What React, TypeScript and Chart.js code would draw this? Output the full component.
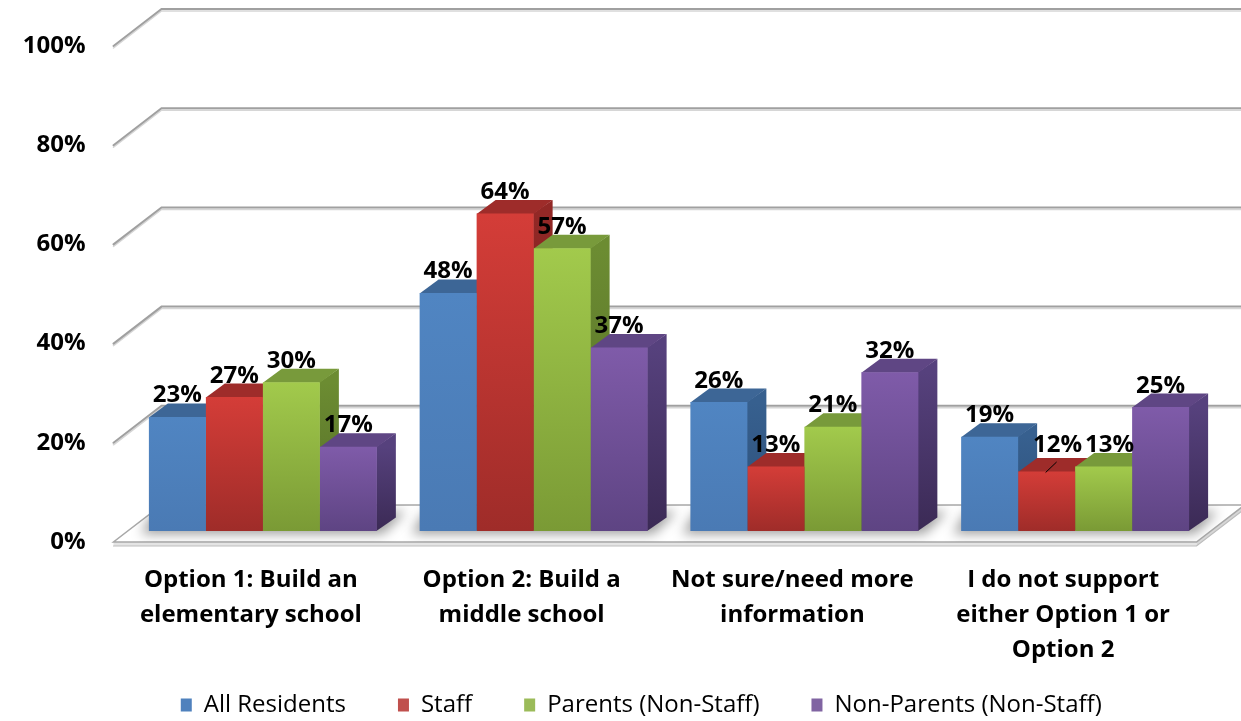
import React, { useEffect, useRef } from "react";
import { Chart, registerables } from "chart.js";

Chart.register(...registerables);

const categories = [
  ["Option 1: Build an", "elementary school"],
  ["Option 2: Build a", "middle school"],
  ["Not sure/need more", "information"],
  ["I do not support", "either Option 1 or", "Option 2"],
];
const seriesNames = ["All Residents", "Staff", "Parents (Non-Staff)", "Non-Parents (Non-Staff)"];
const allResidents = [23, 48, 26, 19];
const staff = [27, 64, 13, 12];
const parentsNonStaff = [30, 57, 21, 13];
const nonParentsNonStaff = [17, 37, 32, 25];
const seriesValues = [allResidents, staff, parentsNonStaff, nonParentsNonStaff];
const yTickStep = 20;
const yMax = 100;

const FONT = "'Open Sans', Lato, sans-serif";

const palettes = [
  { legend: "#4F81BD", frontTop: "#5085C2", frontBot: "#4A7AB4", top: "#3D6696", sideTop: "#37608F", sideBot: "#2D4F78" },
  { legend: "#C0504D", frontTop: "#D43D38", frontBot: "#9F2C29", top: "#9E2C2A", sideTop: "#922826", sideBot: "#6A1D1B" },
  { legend: "#9BBB59", frontTop: "#A2CA4C", frontBot: "#7A9A35", top: "#789A3B", sideTop: "#6C8C32", sideBot: "#536B26" },
  { legend: "#8064A2", frontTop: "#7F5BA9", frontBot: "#5E4483", top: "#5F4684", sideTop: "#56417D", sideBot: "#3B2A55" },
];

// projection offsets (pixels) for the 3D look
const BAR_D = { x: 19, y: -13.5 };
const FRONT_D = { x: -14, y: 11 };
const BACK_D = { x: 34, y: -26 };
const LEGEND_SHIFT = { x: 36, y: -27 };

function poly(ctx: CanvasRenderingContext2D, pts: number[][]) {
  ctx.beginPath();
  ctx.moveTo(pts[0][0], pts[0][1]);
  for (let i = 1; i < pts.length; i++) ctx.lineTo(pts[i][0], pts[i][1]);
  ctx.closePath();
}

const threeDPlugin = {
  id: "threeD",
  afterLayout(chart: any) {
    const lg = chart.legend;
    if (lg) {
      lg.top += LEGEND_SHIFT.y;
      lg.left += LEGEND_SHIFT.x;
      lg.right += LEGEND_SHIFT.x;
    }
  },
  beforeDatasetsDraw(chart: any) {
    const { ctx, chartArea: ca, scales } = chart;
    const y = scales.y;
    const y0 = y.getPixelForValue(0);
    const W = chart.width;
    ctx.save();

    // back wall grid lines + left wall diagonals
    y.ticks.forEach((t: any) => {
      if (t.value === 0) return;
      const yp = y.getPixelForValue(t.value);
      const fx = ca.left + FRONT_D.x, fy = yp + FRONT_D.y;
      const bx = ca.left + BACK_D.x, by = yp + BACK_D.y;
      ctx.lineCap = "round";
      ctx.strokeStyle = "#D6D6D6";
      ctx.lineWidth = 1.5;
      ctx.beginPath();
      ctx.moveTo(fx, fy + 2);
      ctx.lineTo(bx, by + 2);
      ctx.lineTo(W + 5, by + 2);
      ctx.stroke();
      ctx.strokeStyle = "#A0A0A0";
      ctx.lineWidth = 2;
      ctx.beginPath();
      ctx.moveTo(fx, fy);
      ctx.lineTo(bx, by);
      ctx.lineTo(W + 5, by);
      ctx.stroke();
    });

    // floor slab
    const fl = [ca.left + FRONT_D.x, y0 + FRONT_D.y];
    const fr = [ca.right + FRONT_D.x, y0 + FRONT_D.y];
    const br = [ca.right + BACK_D.x, y0 + BACK_D.y];
    const bl = [ca.left + BACK_D.x, y0 + BACK_D.y];
    const th = 4;
    ctx.fillStyle = "#E4E4E4";
    poly(ctx, [fl, fr, [fr[0], fr[1] + th], [fl[0], fl[1] + th]]);
    ctx.fill();
    ctx.fillStyle = "#D6D6D6";
    poly(ctx, [fr, br, [br[0], br[1] + th], [fr[0], fr[1] + th]]);
    ctx.fill();
    ctx.strokeStyle = "#BDBDBD";
    ctx.lineWidth = 1.2;
    ctx.beginPath();
    ctx.moveTo(fl[0], fl[1] + th);
    ctx.lineTo(fr[0], fr[1] + th);
    ctx.lineTo(br[0], br[1] + th);
    ctx.stroke();
    ctx.fillStyle = "#FFFFFF";
    poly(ctx, [fl, fr, br, bl]);
    ctx.fill();
    ctx.strokeStyle = "#A8A8A8";
    ctx.lineWidth = 1.5;
    poly(ctx, [fl, fr, br, bl]);
    ctx.stroke();

    const metas = chart.data.datasets.map((_: any, d: number) => chart.getDatasetMeta(d));
    const n = chart.data.labels.length;

    // soft shadows under bar groups
    ctx.save();
    poly(ctx, [fl, fr, br, bl]);
    ctx.clip();
    ctx.filter = "blur(6px)";
    ctx.fillStyle = "rgba(0,0,0,0.38)";
    for (let i = 0; i < n; i++) {
      const first = metas[0].data[i];
      const last = metas[metas.length - 1].data[i];
      const l = first.x - first.width / 2;
      const r = last.x + last.width / 2;
      poly(ctx, [
        [l - 8, y0 + 3],
        [r + 6, y0 + 3],
        [r + BAR_D.x + 10, y0 + BAR_D.y - 6],
        [l + BAR_D.x - 14, y0 + BAR_D.y - 6],
      ]);
      ctx.fill();
    }
    ctx.restore();

    // tops and sides of the bars (left to right)
    for (let i = 0; i < n; i++) {
      metas.forEach((meta: any, d: number) => {
        const el = meta.data[i];
        const p = palettes[d];
        const l = el.x - el.width / 2;
        const r = el.x + el.width / 2;
        const top = el.y;
        const base = el.base;
        const g = ctx.createLinearGradient(0, top, 0, base);
        g.addColorStop(0, p.sideTop);
        g.addColorStop(1, p.sideBot);
        ctx.fillStyle = g;
        poly(ctx, [
          [r - 0.5, top],
          [r + BAR_D.x, top + BAR_D.y],
          [r + BAR_D.x, base + BAR_D.y],
          [r - 0.5, base],
        ]);
        ctx.fill();
        ctx.fillStyle = p.top;
        poly(ctx, [
          [l, top + 0.5],
          [r, top + 0.5],
          [r + BAR_D.x, top + BAR_D.y],
          [l + BAR_D.x, top + BAR_D.y],
        ]);
        ctx.fill();
      });
    }
    ctx.restore();
  },
  afterDatasetsDraw(chart: any) {
    const { ctx } = chart;
    ctx.save();
    ctx.font = `bold 24px ${FONT}`;
    ctx.fillStyle = "#000";
    ctx.textAlign = "center";
    ctx.textBaseline = "alphabetic";
    const n = chart.data.labels.length;
    chart.data.datasets.forEach((ds: any, d: number) => {
      const meta = chart.getDatasetMeta(d);
      for (let i = 0; i < n; i++) {
        const el = meta.data[i];
        let dx = 0, dy = 0;
        const crowded =
          i === n - 1 && d === 1 && ds.data[i] < chart.data.datasets[2].data[i];
        if (crowded) {
          dx = 11; dy = -5;
          ctx.strokeStyle = "#000";
          ctx.lineWidth = 1;
          ctx.beginPath();
          ctx.moveTo(el.x - 1, el.y + 1);
          ctx.lineTo(el.x + 10, el.y - 9.5);
          ctx.stroke();
        }
        if (i === n - 1 && d === 2) dx = 6;
        ctx.fillText(ds.data[i] + "%", el.x + dx, el.y + BAR_D.y - 1 + dy);
      }
    });
    ctx.restore();
  },
};

export default function App() {
  const ref = useRef<HTMLCanvasElement>(null);
  useEffect(() => {
    document.body.style.margin = "0";
    const canvas = ref.current!;
    const chart = new Chart(canvas, {
      type: "bar",
      data: {
        labels: categories as any,
        datasets: seriesValues.map((vals, d) => ({
          label: seriesNames[d],
          data: vals,
          backgroundColor: (c: any) => {
            const p = palettes[d];
            const ys = c.chart.scales && c.chart.scales.y;
            if (!ys || c.type !== "data") return p.frontTop;
            const top = ys.getPixelForValue(c.raw);
            const base = ys.getPixelForValue(0);
            if (!isFinite(top) || !isFinite(base) || top === base) return p.frontTop;
            const g = c.chart.ctx.createLinearGradient(0, top, 0, base);
            g.addColorStop(0, p.frontTop);
            g.addColorStop(1, p.frontBot);
            return g;
          },
          borderWidth: 0,
          categoryPercentage: 0.842,
          barPercentage: 1,
        })),
      },
      options: {
        responsive: false,
        animation: false,
        devicePixelRatio: 1,
        layout: { padding: { left: 0, right: 30.5, top: 35, bottom: 0 } },
        scales: {
          x: {
            grid: { display: false, drawTicks: false },
            border: { display: false },
            ticks: {
              font: { family: FONT, size: 24, weight: "bold", lineHeight: 1.46 },
              color: "#000",
              padding: 31.5,
              labelOffset: -12,
              maxRotation: 0,
              autoSkip: false,
            },
            afterFit: (s: any) => {
              s.height = 137;
              s.paddingLeft = 0;
              s.paddingRight = 0;
            },
          },
          y: {
            min: 0,
            max: yMax,
            grid: { display: false, drawTicks: false, tickLength: 0 },
            border: { display: false },
            ticks: {
              stepSize: yTickStep,
              callback: (v: any) => v + "%",
              font: { family: FONT, size: 24, weight: "bold" },
              color: "#000",
              padding: 42,
              labelOffset: 11,
            },
            afterFit: (s: any) => {
              s.width = 127.5;
              s.paddingTop = 0;
              s.paddingBottom = 0;
            },
          },
        },
        plugins: {
          legend: {
            position: "bottom",
            maxHeight: 53,
            labels: {
              boxWidth: 11,
              boxHeight: 13,
              padding: 52,
              color: "#1a1a1a",
              font: { family: FONT, size: 24 },
              generateLabels: () =>
                seriesNames.map((name, d) => ({
                  text: name,
                  fillStyle: palettes[d].legend,
                  strokeStyle: palettes[d].legend,
                  lineWidth: 0,
                  hidden: false,
                  datasetIndex: d,
                })),
            },
          },
          tooltip: { enabled: false },
        },
      },
      plugins: [threeDPlugin],
    } as any);
    return () => chart.destroy();
  }, []);
  return (
    <div style={{ position: "fixed", left: 0, top: 0, width: 1241, height: 721, background: "#fff" }}>
      <canvas ref={ref} width={1241} height={721} style={{ width: 1241, height: 721, display: "block" }} />
    </div>
  );
}
